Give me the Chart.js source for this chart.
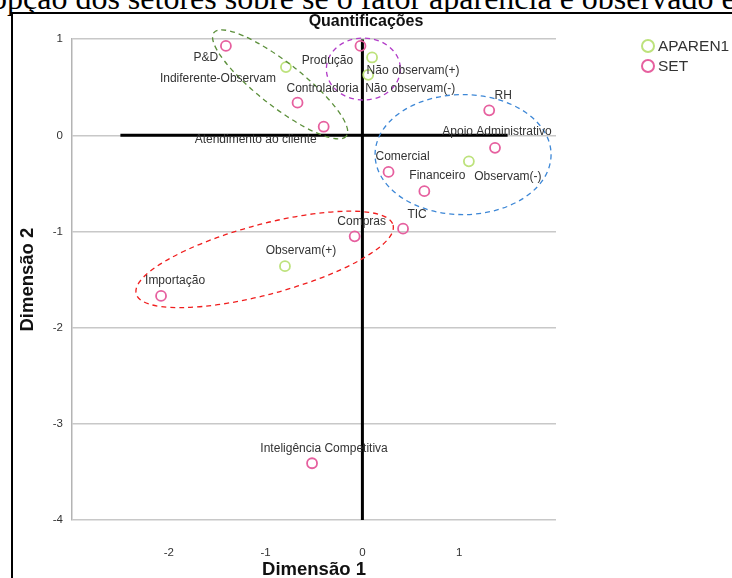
<!DOCTYPE html>
<html lang="pt">
<head>
<meta charset="UTF-8">
<title>Quantificações</title>
<script src="https://cdn.jsdelivr.net/npm/chart.js"></script>
<style>
    html, body { margin: 0; padding: 0; background: #fff; }
    #pagina { position: relative; width: 732px; height: 578px; overflow: hidden; }
    #textoDoc { position: absolute; left: -9px; top: -18px; font-family: "Liberation Serif", serif; font-size: 32px; line-height: 1; white-space: nowrap; color: #000; }
    #moldura { position: absolute; left: 11px; top: 12px; width: 740px; height: 600px; border-left: 2px solid #000; border-top: 2px solid #000; background: #fff; }
    #grafico { position: absolute; left: 0; top: 0; }
</style>
</head>
<body>
<div id="pagina">
    <div id="textoDoc">opção dos setores sobre se o fator aparência e observado e</div>
    <div id="moldura"></div>
    <canvas id="grafico" width="732" height="578"></canvas>
</div>

<script>
    // ---- dados (Dimensão 1, Dimensão 2) ----
    const aparenciaNomes = ['Indiferente-Observam', 'Não observam(+)', 'Não observam(-)', 'Observam(-)', 'Observam(+)'];
    const aparenciaDim1 = [-0.79, 0.10, 0.06, 1.10, -0.80];
    const aparenciaDim2 = [0.71, 0.81, 0.63, -0.27, -1.36];

    const setoresNomes = ['P&D', 'Produção', 'Controladoria', 'Atendimento ao cliente', 'RH', 'Apoio Administrativo',
        'Comercial', 'Financeiro', 'TIC', 'Compras', 'Importação', 'Inteligência Competitiva'];
    const setoresDim1 = [-1.41, -0.02, -0.67, -0.40, 1.31, 1.37, 0.27, 0.64, 0.42, -0.08, -2.08, -0.52];
    const setoresDim2 = [0.93, 0.93, 0.34, 0.09, 0.26, -0.13, -0.38, -0.58, -0.97, -1.05, -1.67, -3.41];

    const ticksDim1 = [-2, -1, 0, 1];
    const ticksDim2 = [-4, -3, -2, -1, 0, 1];

    // linhas de referência em zero
    const linhaVertical = [{ x: 0, y: 1 }, { x: 0, y: -4 }];
    const linhaHorizontal = [{ x: -2.5, y: 0 }, { x: 1.5, y: 0 }];

    // ---- estilo: deslocamento dos rótulos (px) e elipses tracejadas ----
    const deslocRotulos = {
        'P&D': [-20, 12], 'Produção': [-33, 15], 'Controladoria': [25, -14], 'Atendimento ao cliente': [-68, 13],
        'RH': [14, -15], 'Apoio Administrativo': [2, -16], 'Comercial': [14, -15], 'Financeiro': [13, -15],
        'TIC': [14, -14], 'Compras': [7, -15], 'Importação': [14, -15], 'Inteligência Competitiva': [12, -15],
        'Indiferente-Observam': [-68, 12], 'Não observam(+)': [41, 13], 'Não observam(-)': [42, 14],
        'Observam(-)': [39, 15], 'Observam(+)': [16, -15]
    };

    const elipses = [
        { cx: -0.85, cy: 0.53, rx: 84, ry: 22, rot: 38, cor: '#5b8f3a' },
        { cx: 0.01, cy: 0.69, rx: 37, ry: 31, rot: 0, cor: '#b23cc8' },
        { cx: 1.04, cy: -0.20, rx: 88, ry: 60, rot: 0, cor: '#3d87d6' },
        { cx: -1.01, cy: -1.29, rx: 133, ry: 35, rot: -15, cor: '#f01e1e' }
    ];

    const corVerde = '#bde27c';
    const corRosa = '#e6609f';

    Chart.defaults.font.family = '"Liberation Sans", Arial, sans-serif';

    function pontos(xs, ys) {
        return xs.map((v, i) => ({ x: v, y: ys[i] }));
    }

    const pluginExtras = {
        id: 'extras',
        afterDatasetsDraw(chart) {
            const ctx = chart.ctx;
            const sx = chart.scales.x, sy = chart.scales.y;

            // elipses
            ctx.save();
            ctx.setLineDash([5, 4]);
            ctx.lineWidth = 1.3;
            elipses.forEach(e => {
                ctx.strokeStyle = e.cor;
                ctx.beginPath();
                ctx.ellipse(sx.getPixelForValue(e.cx), sy.getPixelForValue(e.cy), e.rx, e.ry, e.rot * Math.PI / 180, 0, Math.PI * 2);
                ctx.stroke();
            });
            ctx.restore();

            // rótulos dos pontos
            ctx.save();
            ctx.font = '12px "Liberation Sans", Arial, sans-serif';
            ctx.fillStyle = '#333';
            ctx.textAlign = 'center';
            ctx.textBaseline = 'middle';
            [[0, aparenciaNomes], [1, setoresNomes]].forEach(([idx, nomes]) => {
                chart.getDatasetMeta(idx).data.forEach((p, i) => {
                    const d = deslocRotulos[nomes[i]] || [0, -14];
                    ctx.fillText(nomes[i], p.x + d[0], p.y + d[1]);
                });
            });
            ctx.restore();
        },
        afterDraw(chart) {
            // legenda à direita
            const ctx = chart.ctx;
            ctx.save();
            ctx.font = '15.5px "Liberation Sans", Arial, sans-serif';
            ctx.textBaseline = 'middle';
            ctx.fillStyle = '#333';
            [0, 1].forEach(i => {
                const ds = chart.data.datasets[i];
                const y = 46 + i * 20;
                ctx.strokeStyle = ds.borderColor;
                ctx.lineWidth = 2;
                ctx.beginPath();
                ctx.arc(648, y, 6, 0, Math.PI * 2);
                ctx.stroke();
                ctx.fillText(ds.label, 658, y + 1);
            });
            ctx.restore();
        }
    };

    const grafico = new Chart(document.getElementById('grafico'), {
        type: 'scatter',
        data: {
            datasets: [
                {
                    label: 'APAREN1',
                    data: pontos(aparenciaDim1, aparenciaDim2),
                    borderColor: corVerde,
                    backgroundColor: 'rgba(0,0,0,0)',
                    pointRadius: 5,
                    borderWidth: 1.8
                },
                {
                    label: 'SET',
                    data: pontos(setoresDim1, setoresDim2),
                    borderColor: corRosa,
                    backgroundColor: 'rgba(0,0,0,0)',
                    pointRadius: 5,
                    borderWidth: 1.8
                },
                {
                    label: 'ref-v',
                    data: linhaVertical,
                    showLine: true,
                    borderColor: '#000',
                    borderWidth: 3,
                    pointRadius: 0
                },
                {
                    label: 'ref-h',
                    data: linhaHorizontal,
                    showLine: true,
                    borderColor: '#000',
                    borderWidth: 3,
                    pointRadius: 0
                }
            ]
        },
        options: {
            responsive: false,
            animation: false,
            layout: { padding: 0 },
            plugins: {
                legend: { display: false },
                tooltip: { enabled: false },
                title: {
                    display: true,
                    text: 'Quantificações',
                    color: '#111',
                    font: { size: 16, weight: 'bold' },
                    padding: { top: 12, bottom: 8 }
                }
            },
            scales: {
                x: {
                    type: 'linear',
                    min: -3,
                    max: 2,
                    afterBuildTicks(s) { s.ticks = ticksDim1.map(v => ({ value: v })); },
                    grid: { display: false, drawTicks: false },
                    border: { display: false },
                    ticks: { padding: 26, color: '#333', font: { size: 11.5 } },
                    title: { display: true, text: 'Dimensão 1', color: '#111', font: { size: 18.5, weight: 'bold', lineHeight: 0.9 }, padding: { top: 0, bottom: 0 } },
                    afterFit(s) { s.height = 58; }
                },
                y: {
                    type: 'linear',
                    min: -4,
                    max: 1,
                    afterBuildTicks(s) { s.ticks = ticksDim2.map(v => ({ value: v })); },
                    grid: { color: '#c8c8c8', lineWidth: 1.5, drawTicks: false },
                    border: { display: true, color: '#b4b4b4', width: 1.5 },
                    ticks: { padding: 9, color: '#333', font: { size: 11.5 } },
                    title: { display: true, text: 'Dimensão 2', color: '#111', font: { size: 18.5, weight: 'bold', lineHeight: 0.9 }, padding: { top: 19.5, bottom: 0 } },
                    afterFit(s) { s.width = 72; }
                },
                yDir: {
                    type: 'linear',
                    position: 'right',
                    grid: { display: false, drawTicks: false },
                    border: { display: false },
                    ticks: { display: false },
                    afterFit(s) { s.width = 176; }
                }
            }
        },
        plugins: [pluginExtras]
    });
</script>
</body>
</html>
